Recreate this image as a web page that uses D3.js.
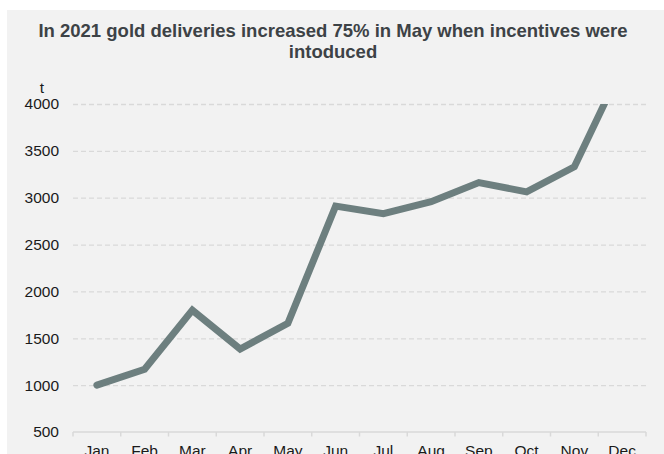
<!DOCTYPE html>
<html>
<head>
<meta charset="utf-8">
<script src="https://cdn.jsdelivr.net/npm/d3@7"></script>
<style>
  html, body { margin: 0; padding: 0; background: #ffffff; }
  svg { display: block; font-family: "Liberation Sans", Arial, sans-serif; }
</style>
</head>
<body>
<svg id="chart" width="664" height="454"></svg>
<script>
// Monthly gold deliveries, 2021 (tonnes)
const months = ["Jan", "Feb", "Mar", "Apr", "May", "Jun", "Jul", "Aug", "Sep", "Oct", "Nov", "Dec"];
const deliveries = [1000, 1170, 1800, 1385, 1660, 2910, 2830, 2957, 3162, 3062, 3330, 4400];
const yTicks = [500, 1000, 1500, 2000, 2500, 3000, 3500, 4000];
const titleLines = ["In 2021 gold deliveries increased 75% in May when incentives were", "intoduced"];
const unitLabel = "t";

const W = 664, H = 454;
const margin = { left: 73, right: 18, top: 104, bottom: 22 };
const svg = d3.select("#chart");

// panel background
svg.append("rect")
  .attr("x", 7).attr("y", 10)
  .attr("width", W - 7).attr("height", H - 10)
  .attr("fill", "#f2f2f2");

const x = d3.scaleBand()
  .domain(months)
  .range([margin.left, W - margin.right])
  .paddingInner(0).paddingOuter(0);

const y = d3.scaleLinear()
  .domain([500, 4000])
  .range([H - margin.bottom, margin.top]);

// title
svg.append("text")
  .attr("text-anchor", "middle")
  .attr("font-weight", "bold")
  .attr("font-size", 18.5)
  .attr("fill", "#3d4246")
  .selectAll("tspan")
  .data(titleLines)
  .join("tspan")
  .attr("x", 333)
  .attr("y", (d, i) => 36.5 + i * 21)
  .text(d => d);

// horizontal dashed gridlines
const yAxis = d3.axisLeft(y)
  .tickValues(yTicks)
  .tickSize(-(W - margin.left - margin.right))
  .tickPadding(14)
  .tickFormat(d3.format("d"));

const gy = svg.append("g")
  .attr("transform", `translate(${margin.left},0)`)
  .call(yAxis);
gy.select(".domain").remove();
gy.selectAll(".tick line")
  .attr("stroke", "#d9d9d9")
  .attr("stroke-width", 1.3)
  .attr("stroke-dasharray", "5,3")
  .filter(d => d === 500).remove();
gy.selectAll(".tick text")
  .attr("font-size", 15.5)
  .attr("fill", "#1a1a1a")
  .attr("font-family", "Liberation Sans, Arial, sans-serif");

// unit label above the axis
svg.append("text")
  .attr("x", 42).attr("y", 93)
  .attr("text-anchor", "middle")
  .attr("font-size", 15.5)
  .attr("fill", "#1a1a1a")
  .text(unitLabel);

// bottom category axis with ticks at band edges
const gx = svg.append("g")
  .attr("transform", `translate(0,${y(500)})`);
gx.append("line")
  .attr("x1", margin.left).attr("x2", W - margin.right)
  .attr("stroke", "#d9d9d9").attr("stroke-width", 1.5);
const edges = months.map(m => x(m)).concat([x(months[months.length - 1]) + x.bandwidth()]);
gx.selectAll(".edge")
  .data(edges)
  .join("line")
  .attr("class", "edge")
  .attr("x1", d => d).attr("x2", d => d)
  .attr("y1", 0).attr("y2", 4.5)
  .attr("stroke", "#d9d9d9").attr("stroke-width", 1.5);
gx.selectAll(".lbl")
  .data(months)
  .join("text")
  .attr("class", "lbl")
  .attr("x", d => x(d) + x.bandwidth() / 2)
  .attr("y", 24)
  .attr("text-anchor", "middle")
  .attr("font-size", 15.5)
  .attr("fill", "#1a1a1a")
  .text(d => d);

// line, clipped to the plotting area
svg.append("clipPath").attr("id", "plotClip")
  .append("rect")
  .attr("x", margin.left).attr("y", y(4000))
  .attr("width", W - margin.left - margin.right)
  .attr("height", y(500) - y(4000));

const line = d3.line()
  .x((d, i) => x(months[i]) + x.bandwidth() / 2)
  .y(d => y(d));

svg.append("path")
  .datum(deliveries)
  .attr("clip-path", "url(#plotClip)")
  .attr("d", line)
  .attr("fill", "none")
  .attr("stroke", "#6d7f7f")
  .attr("stroke-width", 7)
  .attr("stroke-linecap", "round")
  .attr("stroke-linejoin", "miter");
</script>
</body>
</html>
